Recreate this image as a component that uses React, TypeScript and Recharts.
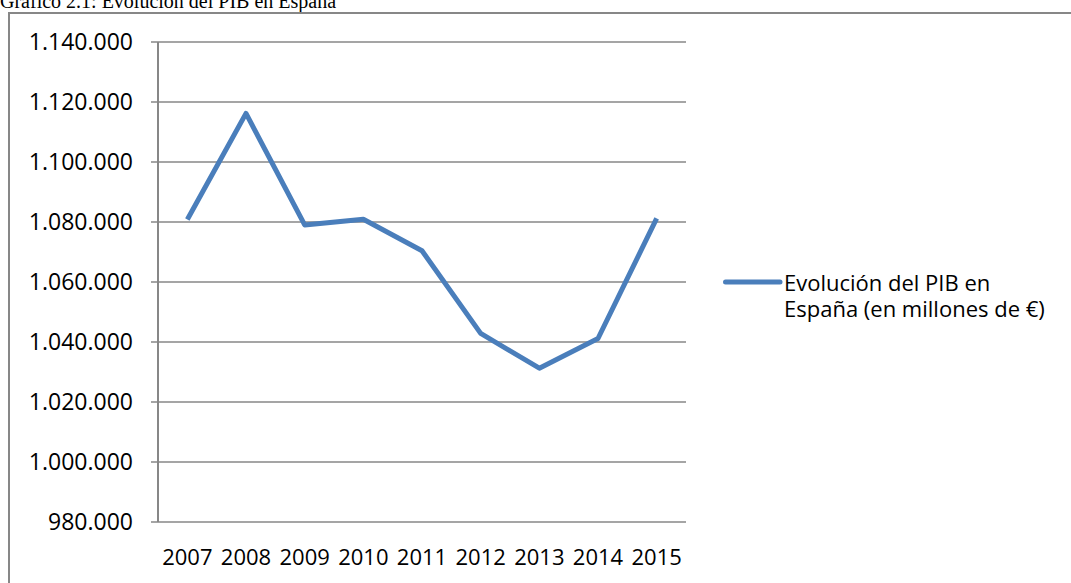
import React from "react";
import { CartesianGrid, Line, LineChart, XAxis, YAxis } from "recharts";

const years = ["2007", "2008", "2009", "2010", "2011", "2012", "2013", "2014", "2015"];
const pib = [1080807, 1116207, 1079034, 1080913, 1070413, 1042872, 1031272, 1041160, 1081190];
const yTicks = [980000, 1000000, 1020000, 1040000, 1060000, 1080000, 1100000, 1120000, 1140000];
const seriesName = ["Evolución del PIB en", "España (en millones de €)"];
const title = "Gráfico 2.1: Evolución del PIB en España";

const data = years.map((year, i) => ({ year, pib: pib[i] }));
const boundaries = years.map((_, i) => i).concat(years.length);

const GRAY = "#878787";
const BLUE = "#4a7ebb";
const FONT = "'Open Sans', 'Noto Sans', sans-serif";

const fmt = (v: number) => String(v).replace(/\B(?=(\d{3})+(?!\d))/g, ".");

export default function App() {
    return (
        <div style={{ position: "absolute", left: 0, top: 0, width: 1071, height: 583, overflow: "hidden", background: "#fff" }}>
            <div
                style={{
                    position: "absolute",
                    left: 0,
                    top: -9,
                    fontFamily: "'Liberation Serif', 'Times New Roman', serif",
                    fontSize: 20,
                    lineHeight: "20px",
                    whiteSpace: "nowrap",
                }}
            >
                {title}
            </div>
            <div
                style={{
                    position: "absolute",
                    left: 8,
                    top: 12,
                    width: 1100,
                    height: 620,
                    border: `2px solid ${GRAY}`,
                    boxSizing: "border-box",
                }}
            />
            <div style={{ position: "absolute", left: 0, top: 0 }}>
                <LineChart
                    width={1071}
                    height={583}
                    data={data}
                    margin={{ top: 42, right: 385, bottom: 0, left: 8 }}
                >
                    <CartesianGrid xAxisId="cat" vertical={false} stroke={GRAY} strokeWidth={1.5} />
                    <XAxis
                        xAxisId="grid"
                        type="number"
                        domain={[0, years.length]}
                        ticks={boundaries}
                        tickFormatter={() => ""}
                        tickSize={8}
                        height={0}
                        axisLine={{ stroke: GRAY, strokeWidth: 2 }}
                        tickLine={{ stroke: GRAY, strokeWidth: 2 }}
                    />
                    <XAxis
                        xAxisId="cat"
                        dataKey="year"
                        height={61}
                        interval={0}
                        padding={{ left: 528 / 18, right: 528 / 18 }}
                        axisLine={false}
                        tickLine={false}
                        tickSize={0}
                        tickMargin={27}
                        tick={{ fill: "#000", fontSize: 22, fontFamily: FONT }}
                    />
                    <YAxis
                        width={150}
                        domain={[980000, 1140000]}
                        ticks={yTicks}
                        interval={0}
                        tickFormatter={fmt}
                        tickSize={7}
                        tickMargin={18}
                        axisLine={{ stroke: GRAY, strokeWidth: 2 }}
                        tickLine={{ stroke: GRAY, strokeWidth: 1.5 }}
                        tick={{ fill: "#000", fontSize: 23, fontFamily: FONT }}
                    />
                    <Line
                        xAxisId="cat"
                        dataKey="pib"
                        stroke={BLUE}
                        strokeWidth={5}
                        strokeLinejoin="round"
                        dot={false}
                        isAnimationActive={false}
                    />
                </LineChart>
            </div>
            <div style={{ position: "absolute", left: 723, top: 268, display: "flex", alignItems: "flex-start" }}>
                <svg width={60} height={28} style={{ display: "block" }}>
                    <line x1={2.5} y1={14} x2={57} y2={14} stroke={BLUE} strokeWidth={5} strokeLinecap="round" />
                </svg>
                <div style={{ fontFamily: FONT, fontSize: 22, lineHeight: "26px", marginLeft: 1, marginTop: 1, color: "#000" }}>
                    {seriesName.map((t) => (
                        <div key={t} style={{ whiteSpace: "nowrap", height: 26 }}>{t}</div>
                    ))}
                </div>
            </div>
        </div>
    );
}
